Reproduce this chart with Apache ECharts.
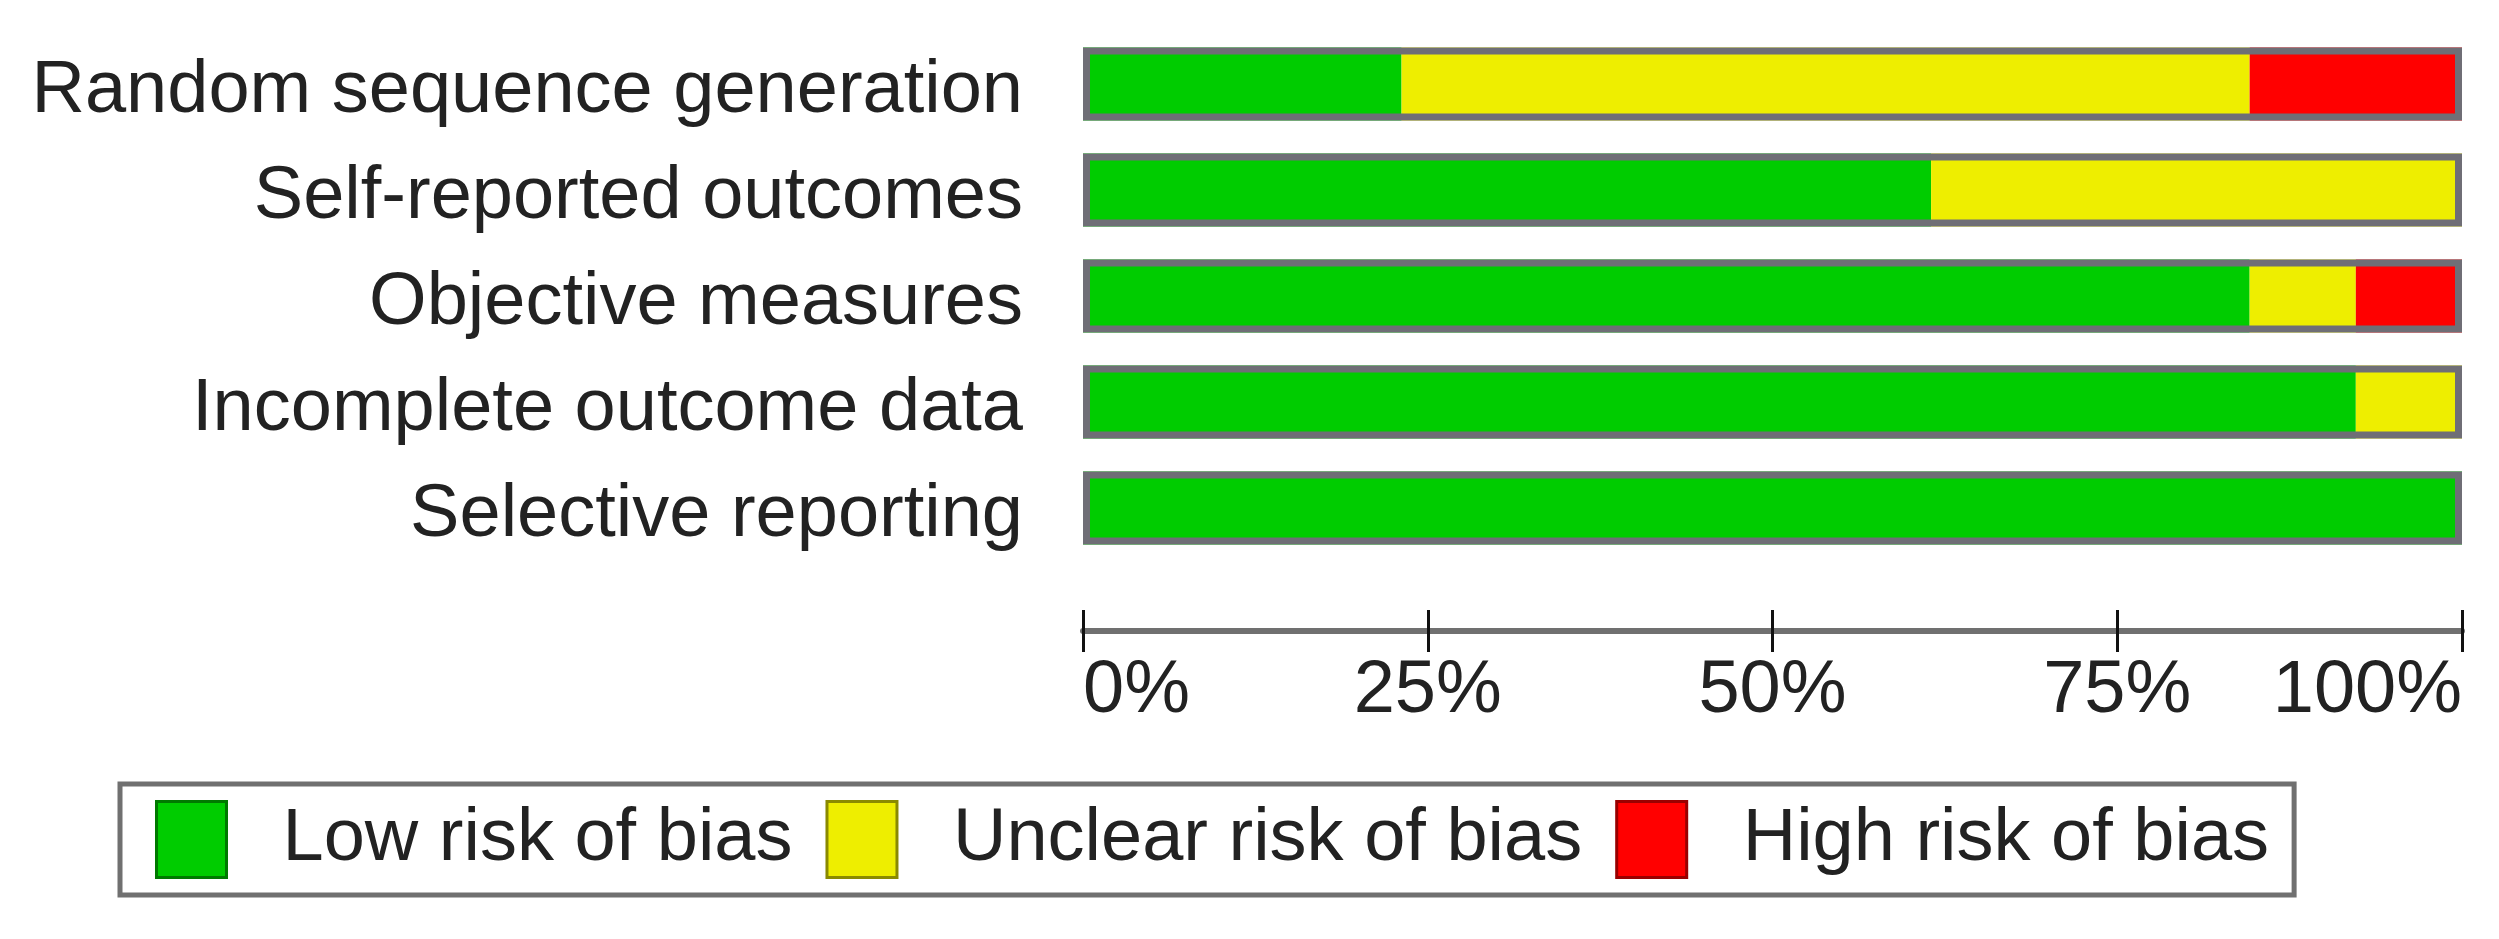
<!DOCTYPE html>
<html>
<head>
<meta charset="utf-8">
<script src="https://cdn.jsdelivr.net/npm/echarts@6/dist/echarts.min.js"></script>
<style>
html,body{margin:0;padding:0;background:#fff;}
#chart{width:2499px;height:939px;}
</style>
</head>
<body>
<div id="chart"></div>
<script>
const categories = ['Random sequence generation','Self-reported outcomes','Objective measures','Incomplete outcome data','Selective reporting'];
const lowRisk = [23.1, 61.5, 84.6, 92.3, 100];
const unclearRisk = [61.5, 38.5, 7.7, 7.7, 0];
const highRisk = [15.4, 0, 7.7, 0, 0];
const frameValues = [100, 100, 100, 100, 100];
const tickValues = [0, 25, 50, 75, 100];
const seriesNames = ['Low risk of bias','Unclear risk of bias','High risk of bias'];

const FONT = 'Liberation Sans, Arial, sans-serif';
const chart = echarts.init(document.getElementById('chart'), null, {renderer:'canvas'});
const BW = 73;
const option = {
  backgroundColor: '#ffffff',
  animation: false,
  grid: {left: 1083, right: 37, top: 31, height: 530, containLabel: false},
  xAxis: [{
    type: 'value', min: tickValues[0], max: tickValues[tickValues.length-1], interval: 25,
    position: 'bottom', offset: 70,
    axisLine: {show: true, lineStyle: {color: '#707070', width: 6}},
    axisTick: {show: true, length: 21, lineStyle: {color: '#111', width: 3}},
    splitLine: {show: false},
    axisLabel: {formatter: '{value}%', fontSize: 74, fontFamily: FONT, color: '#222', margin: 24,
      alignMinLabel: 'left', alignMaxLabel: 'right'}
  }, {
    type: 'value', min: tickValues[0], max: tickValues[tickValues.length-1], interval: 25,
    position: 'bottom', offset: 70,
    axisLine: {show: false},
    axisTick: {show: true, inside: true, length: 21, lineStyle: {color: '#111', width: 3}},
    splitLine: {show: false},
    axisLabel: {show: false}
  }],
  yAxis: {
    type: 'category', data: categories, inverse: true,
    axisLine: {show: false}, axisTick: {show: false},
    axisLabel: {
      margin: 60,
      formatter: function (v) { return '{a|' + v + '}'; },
      rich: {a: {fontSize: 74, fontFamily: FONT, color: '#222', padding: [16, 0, 0, 0]}}
    }
  },
  legend: {
    data: [
      {name: seriesNames[0], itemStyle: {borderColor: '#007a00', borderWidth: 3}},
      {name: seriesNames[1], itemStyle: {borderColor: '#8a8a00', borderWidth: 3}},
      {name: seriesNames[2], itemStyle: {borderColor: '#990000', borderWidth: 3}}
    ],
    left: 120, top: 784,
    orient: 'horizontal',
    icon: 'rect', itemWidth: 70, itemHeight: 76, itemGap: 33,
    padding: [16, 25, 16, 35],
    borderColor: '#707070', borderWidth: 5,
    textStyle: {fontSize: 74, fontFamily: FONT, color: '#222', padding: [0, 0, 0, 51]},
    selectedMode: false
  },
  series: [
    {name: seriesNames[0], type: 'bar', stack: 'r', data: lowRisk, barWidth: BW, itemStyle: {color: '#00cc00'}, silent: true},
    {name: seriesNames[1], type: 'bar', stack: 'r', data: unclearRisk, barWidth: BW, itemStyle: {color: '#eeee00'}, silent: true},
    {name: seriesNames[2], type: 'bar', stack: 'r', data: highRisk, barWidth: BW, itemStyle: {color: '#ff0000'}, silent: true},
    {name: 'frame', type: 'bar', data: frameValues, barWidth: BW, barGap: '-100%', z: 5, silent: true,
      itemStyle: {color: 'rgba(0,0,0,0)', borderColor: '#6f6e76', borderWidth: 7}}
  ]
};
chart.setOption(option);
</script>
</body>
</html>
